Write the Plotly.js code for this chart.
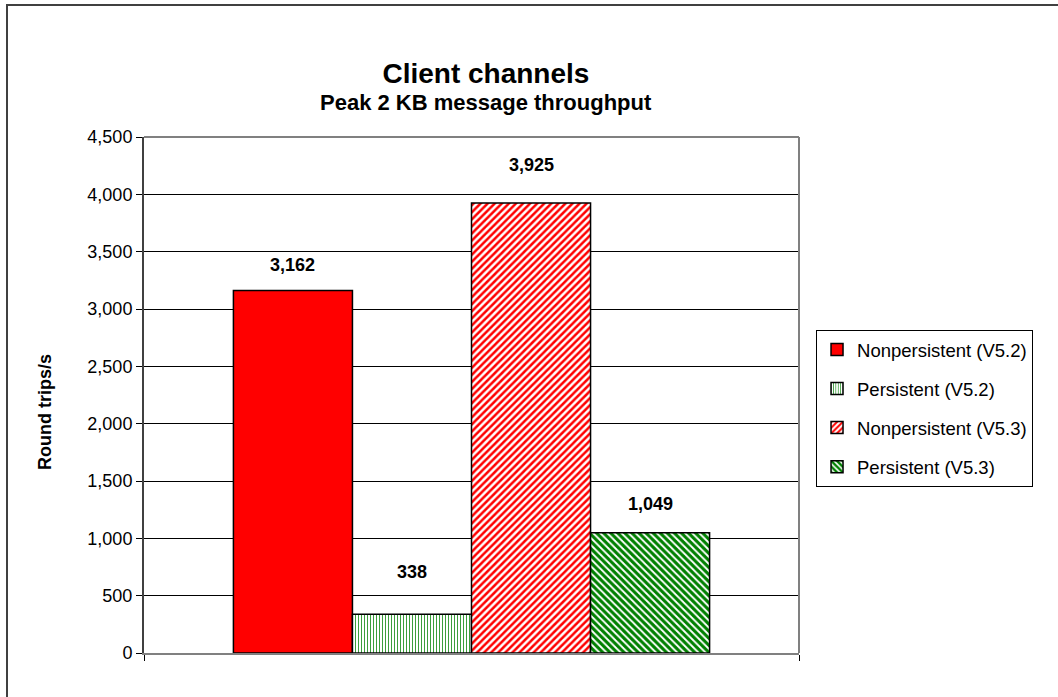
<!DOCTYPE html>
<html>
<head>
<meta charset="utf-8">
<script src="https://cdn.plot.ly/plotly-3.0.1.min.js"></script>
<style>
  html, body { margin: 0; padding: 0; background: #fff; }
  #wrap { position: relative; width: 1058px; height: 697px; overflow: hidden; }
  #chart { position: absolute; left: 0; top: 0; width: 1058px; height: 697px; }
  #frame { position: absolute; left: 6px; top: 4px; width: 1100px; height: 800px;
           border-left: 2px solid #404040; border-top: 2px solid #404040; pointer-events: none; }
</style>
</head>
<body>
<div id="wrap">
  <div id="chart"></div>
  <div id="frame"></div>
</div>
<script>
// ---- data ----
const category = ['Client channels'];
const seriesNames = ['Nonpersistent (V5.2)', 'Persistent (V5.2)', 'Nonpersistent (V5.3)', 'Persistent (V5.3)'];
const seriesValues = [3162, 338, 3925, 1049];
const yTickVals = [0, 500, 1000, 1500, 2000, 2500, 3000, 3500, 4000, 4500];

// ---- styles ----
const patterns = [
  { shape: '', fgcolor: '#FF0000', bgcolor: '#FF0000' },
  { shape: '|', fgcolor: '#3c9e3c', bgcolor: '#FFFFFF', size: 3, solidity: 0.34, fillmode: 'replace' },
  { shape: '/', fgcolor: '#FF0000', bgcolor: '#FFFFFF', size: 5, solidity: 0.5, fillmode: 'replace' },
  { shape: '\\', fgcolor: '#008000', bgcolor: '#FFFFFF', size: 5, solidity: 0.62, fillmode: 'replace' }
];
const baseColors = ['#FF0000', '#FFFFFF', '#FFFFFF', '#FFFFFF'];
const labelShift = [25, 42, 38, 29];
const bargap = 0.273;
const FONT = 'Liberation Sans, Arial, sans-serif';

const traces = seriesNames.map((name, i) => ({
  type: 'bar',
  name: name,
  x: category,
  y: [seriesValues[i]],
  legendgroup: 'g' + i,
  marker: {
    color: baseColors[i],
    pattern: patterns[i],
    line: { color: '#000000', width: 1.5 }
  },
  hoverinfo: 'name+y'
}));

const groupW = 1 - bargap;
const barW = groupW / seriesNames.length;
const annotations = seriesValues.map((v, i) => ({
  xref: 'x', yref: 'y',
  x: -groupW / 2 + (i + 0.5) * barW,
  y: v,
  yshift: labelShift[i],
  yanchor: 'middle',
  text: '<b>' + v.toLocaleString('en-US') + '</b>',
  showarrow: false,
  font: { family: FONT, size: 18, color: '#000' }
}));

annotations.push({
  xref: 'paper', yref: 'paper',
  x: 0.522, y: (653 - 102) / 516,
  xanchor: 'center', yanchor: 'middle',
  text: '<b>Peak 2 KB message throughput</b>',
  showarrow: false,
  font: { family: FONT, size: 22, color: '#000' }
});

annotations.push({
  xref: 'paper', yref: 'paper',
  x: (45 - 144) / 655, y: (653 - 412) / 516,
  xanchor: 'center', yanchor: 'middle',
  textangle: -90,
  text: '<b>Round trips/s</b>',
  showarrow: false,
  font: { family: FONT, size: 18, color: '#000' }
});

const layout = {
  width: 1058, height: 697,
  margin: { l: 144, r: 259, t: 137, b: 44 },
  paper_bgcolor: '#FFFFFF',
  plot_bgcolor: '#FFFFFF',
  font: { family: FONT, color: '#000' },
  title: {
    text: '<b>Client channels</b>',
    font: { family: FONT, size: 28, color: '#000' },
    xref: 'paper', x: 0.522, xanchor: 'center',
    yref: 'container', y: 1 - 73 / 697, yanchor: 'middle'
  },
  barmode: 'group',
  bargap: bargap,
  bargroupgap: 0,
  showlegend: true,
  legend: {
    x: 1.026, y: 0.626, xanchor: 'left', yanchor: 'top',
    bordercolor: '#000', borderwidth: 1, bgcolor: '#fff',
    font: { family: FONT, size: 18.5, color: '#000' },
    traceorder: 'grouped', tracegroupgap: 12,
    itemwidth: 30
  },
  xaxis: {
    type: 'category',
    range: [-0.5, 0.5],
    showticklabels: false,
    tickmode: 'array', tickvals: [-0.5, 0.5],
    ticks: 'outside', ticklen: 6, tickcolor: '#000', tickwidth: 1,
    showgrid: false, zeroline: false,
    showline: true, linecolor: '#808080', linewidth: 2,
    fixedrange: true
  },
  yaxis: {
    range: [0, 4500],
    tickmode: 'array', tickvals: yTickVals,
    tickformat: ',d',
    ticks: 'outside', ticklen: 6, tickcolor: '#000', tickwidth: 1,
    tickfont: { family: FONT, size: 18, color: '#000' },
    showgrid: true, gridcolor: '#000', gridwidth: 1,
    zeroline: false,
    showline: true, linecolor: '#404040', linewidth: 2,
    fixedrange: true
  },
  shapes: [
    { type: 'line', xref: 'paper', yref: 'paper', x0: 0, x1: 1, y0: 1, y1: 1, line: { color: '#808080', width: 2 } },
    { type: 'line', xref: 'paper', yref: 'paper', x0: 1, x1: 1, y0: 0, y1: 1, line: { color: '#808080', width: 2 } }
  ],
  annotations: annotations
};

Plotly.newPlot('chart', traces, layout, { displayModeBar: false, staticPlot: true });
</script>
</body>
</html>
